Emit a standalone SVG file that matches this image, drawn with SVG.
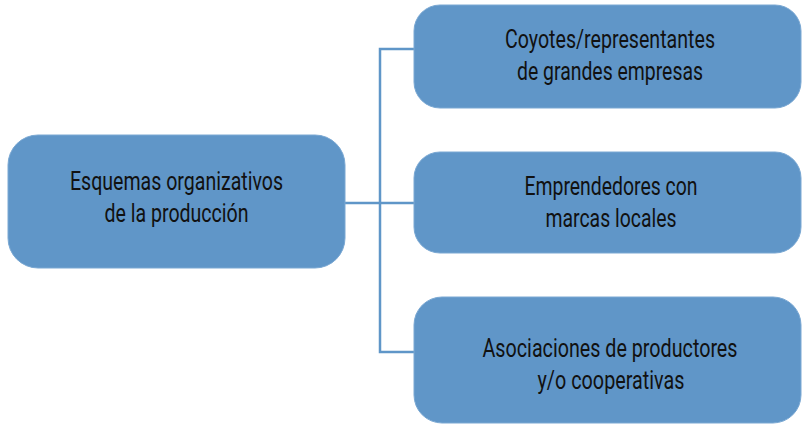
<svg xmlns="http://www.w3.org/2000/svg" width="802" height="424" viewBox="0 0 802 424">
<style>
.box{fill:#6096c8;stroke:#7aa8d3;stroke-width:1}
.t{font-family:Roboto,"Liberation Sans",sans-serif;font-size:25px;fill:#111111;text-anchor:middle}
.c{fill:none;stroke:#5f96c8;stroke-width:2.5}
</style>
<rect width="802" height="424" fill="#ffffff"/>
<g id="connectors">
<path class="c" d="M345,203 H414"/>
<path class="c" d="M414,49 H380 V352 H414"/>
</g>
<g id="root">
<rect class="box" x="8" y="135" width="337" height="133" rx="30" ry="30"/>
<text class="t" x="176.5" y="190" textLength="213" lengthAdjust="spacingAndGlyphs">Esquemas organizativos</text>
<text class="t" x="176.5" y="222" textLength="144" lengthAdjust="spacingAndGlyphs">de la producción</text>
</g>
<g id="n1">
<rect class="box" x="414" y="5" width="387" height="103" rx="26" ry="26"/>
<text class="t" x="610" y="48" textLength="210" lengthAdjust="spacingAndGlyphs">Coyotes/representantes</text>
<text class="t" x="610" y="80" textLength="186" lengthAdjust="spacingAndGlyphs">de grandes empresas</text>
</g>
<g id="n2">
<rect class="box" x="414" y="152" width="387" height="101" rx="26" ry="26"/>
<text class="t" x="611" y="195" textLength="173" lengthAdjust="spacingAndGlyphs">Emprendedores con</text>
<text class="t" x="611" y="227" textLength="131" lengthAdjust="spacingAndGlyphs">marcas locales</text>
</g>
<g id="n3">
<rect class="box" x="414" y="297" width="387" height="126" rx="28" ry="28"/>
<text class="t" x="610" y="357" textLength="255" lengthAdjust="spacingAndGlyphs">Asociaciones de productores</text>
<text class="t" x="611" y="389" textLength="147" lengthAdjust="spacingAndGlyphs">y/o cooperativas</text>
</g>
</svg>
